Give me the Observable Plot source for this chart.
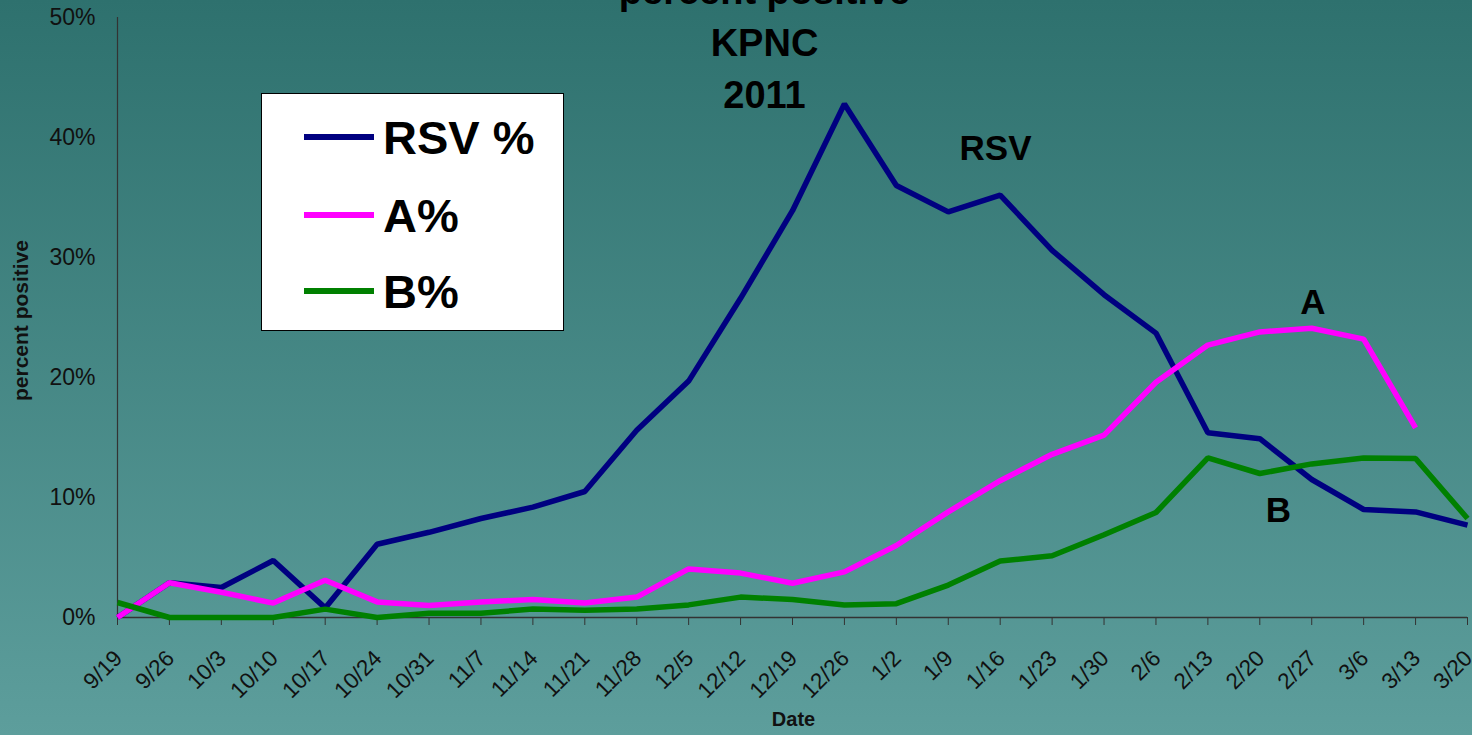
<!DOCTYPE html>
<html>
<head>
<meta charset="utf-8">
<script src="https://cdn.jsdelivr.net/npm/d3@7"></script>
<script src="https://cdn.jsdelivr.net/npm/@observablehq/plot@0.6"></script>
<style>
  html, body { margin: 0; padding: 0; }
  body { width: 1472px; height: 735px; overflow: hidden; font-family: "Liberation Sans", Arial, sans-serif; }
  #wrap { position: relative; width: 1472px; height: 735px;
    background: linear-gradient(to bottom, #2e716e 0%, #5d9e9c 100%); }
  #legend { position: absolute; left: 261px; top: 93px; }
</style>
</head>
<body>
<div id="wrap"></div>
<script>
const dates = ["9/19","9/26","10/3","10/10","10/17","10/24","10/31","11/7","11/14","11/21","11/28","12/5","12/12","12/19","12/26","1/2","1/9","1/16","1/23","1/30","2/6","2/13","2/20","2/27","3/6","3/13","3/20"];
const rsvPct = [0, 2.9, 2.5, 4.75, 0.8, 6.1, 7.1, 8.25, 9.2, 10.5, 15.6, 19.7, 26.6, 33.9, 42.8, 36.0, 33.8, 35.2, 30.6, 26.9, 23.7, 15.4, 14.9, 11.5, 9.0, 8.8, 7.7];
const aPct   = [0, 2.9, 2.1, 1.2, 3.1, 1.3, 1.0, 1.3, 1.5, 1.2, 1.7, 4.05, 3.7, 2.85, 3.8, 6.0, 8.8, 11.4, 13.6, 15.2, 19.6, 22.7, 23.8, 24.1, 23.2, 15.8, null];
const bPct   = [1.25, 0, 0, 0, 0.7, 0, 0.35, 0.35, 0.7, 0.6, 0.7, 1.05, 1.7, 1.5, 1.05, 1.15, 2.7, 4.7, 5.15, 6.9, 8.75, 13.3, 12.0, 12.8, 13.3, 13.25, 8.25];
const seriesNames = ["RSV %", "A%", "B%"];
const seriesColors = ["#000080", "#ff00ff", "#008000"];
const yTicks = [0, 0.1, 0.2, 0.3, 0.4, 0.5];
const titleText = "percent positive\nKPNC\n2011";
const annotations = [
  {text: "RSV", x: 16.91, y: 0.391},
  {text: "A", x: 23.02, y: 0.262},
  {text: "B", x: 22.36, y: 0.089}
];

const idx = dates.map((d, i) => i);
const toRows = (vals, name) => vals.map((v, i) => ({i, v: v == null ? NaN : v / 100, name}));
const rows = [toRows(rsvPct, "RSV %"), toRows(aPct, "A%"), toRows(bPct, "B%")];

const font = "Liberation Sans, Arial, sans-serif";

const chart = Plot.plot({
  width: 1472,
  height: 735,
  marginLeft: 117,
  marginRight: 5,
  marginTop: 17,
  marginBottom: 118,
  style: {background: "transparent", fontFamily: font, color: "#111", overflow: "visible"},
  x: {type: "linear", domain: [0, dates.length - 1], axis: null},
  y: {domain: [0, 0.5], axis: null},
  marks: [
    Plot.axisY({ticks: yTicks, tickFormat: d3.format(".0%"), tickSize: 0, tickPadding: 22, fontSize: 23, fill: "#111", label: null}),
    Plot.axisX({ticks: idx, tickSize: 8, tickFormat: () => "", stroke: "#333", label: null}),
    Plot.ruleX([0], {stroke: "#333", strokeWidth: 1.2}),
    Plot.ruleY([0], {stroke: "#333", strokeWidth: 1.5}),
    Plot.text(dates, {x: (d, i) => i, y: 0, text: d => d, rotate: -45, textAnchor: "end", lineAnchor: "middle", dy: 37, dx: 1, fontSize: 22.5, fill: "#111"}),
    ...rows.map((r, k) => Plot.line(r, {x: "i", y: "v", stroke: seriesColors[k], strokeWidth: 5.5, strokeLinejoin: "miter", strokeLinecap: "butt"})),
    Plot.text(annotations, {x: "x", y: "y", text: "text", fontSize: 35, fontWeight: "bold", fill: "#000", lineAnchor: "middle"}),
    Plot.text([titleText], {frameAnchor: "top", dx: -28, dy: -50, lineAnchor: "top", lineHeight: 1.36, fontSize: 38, fontWeight: "bold", fill: "#000"}),
    Plot.text(["percent positive"], {frameAnchor: "left", textAnchor: "middle", rotate: -90, dx: -96, dy: 3, fontSize: 21, fontWeight: "bold", fill: "#111"}),
    Plot.text(["Date"], {frameAnchor: "bottom", dx: 1, dy: 108, fontSize: 20, fontWeight: "bold", fill: "#111"})
  ]
});

const wrap = document.getElementById("wrap");
wrap.appendChild(chart);

// legend (HTML/SVG overlay)
const lg = d3.select(wrap).append("svg").attr("id", "legend")
  .attr("width", 304).attr("height", 239);
lg.append("rect").attr("x", 0.5).attr("y", 0.5).attr("width", 302).attr("height", 237)
  .attr("fill", "#fff").attr("stroke", "#000").attr("stroke-width", 1);
const rowY = [44, 122, 198];
seriesNames.forEach((name, k) => {
  lg.append("line").attr("x1", 43).attr("x2", 113).attr("y1", rowY[k]).attr("y2", rowY[k])
    .attr("stroke", seriesColors[k]).attr("stroke-width", 6);
  lg.append("text").attr("x", 122).attr("y", rowY[k] + 17)
    .attr("font-family", font).attr("font-weight", "bold").attr("font-size", 47)
    .attr("fill", "#000").text(name);
});
</script>
</body>
</html>
